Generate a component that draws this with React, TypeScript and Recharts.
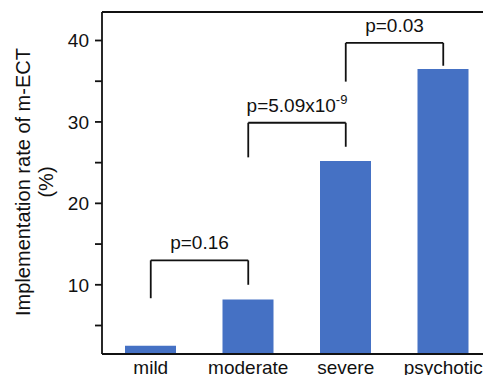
import { Bar, BarChart, ReferenceLine, XAxis, YAxis } from 'recharts'

const categories = ['mild', 'moderate', 'severe', 'psychotic']
const rates = [2.5, 8.2, 25.2, 36.5]
const yTicks = [5, 10, 15, 20, 25, 30, 35, 40]
const yMin = 1.5
const yMax = 43.5

// significance brackets between neighbouring groups
const bracketFrom = ['mild', 'moderate', 'severe']
const bracketTo = ['moderate', 'severe', 'psychotic']
const bracketTop = [13, 29.9, 39.7]
const bracketLeftFoot = [8.35, 25.65, 34.95]
const bracketRightFoot = [10, 26.95, 36.9]
const pText = ['p=0.16', 'p=5.09x10', 'p=0.03']
const pExponent = ['', '-9', '']

const FONT = '"Liberation Sans", Arial, sans-serif'
const INK = '#111'
const BAR_BLUE = '#4571C4'
const LINE_W = 1.8

const data = categories.map((name, i) => ({ name, rate: rates[i] }))

function PLabel({ viewBox, text, exp }: any) {
  if (!viewBox) return null
  const cx = viewBox.x + viewBox.width / 2
  const y = viewBox.y - 11
  return (
    <text x={cx} y={y} textAnchor="middle" fontSize={19} fill={INK} fontFamily={FONT}>
      {text}
      {exp ? (
        <tspan dy={-8} fontSize={13}>
          {exp}
        </tspan>
      ) : null}
    </text>
  )
}

function YTitle() {
  return (
    <g fontFamily={FONT} fontSize={20} fill={INK}>
      <text transform="rotate(-90)" x={-182} y={29.5} textAnchor="middle">
        Implementation rate of m-ECT
      </text>
      <text transform="rotate(-90)" x={-182} y={53} textAnchor="middle">
        (%)
      </text>
    </g>
  )
}

export default function App() {
  return (
    <div
      style={{
        position: 'fixed',
        left: 0,
        top: 0,
        width: 483,
        height: 375,
        overflow: 'hidden',
        background: '#fff',
      }}
    >
      <BarChart
        width={492}
        height={375}
        data={data}
        margin={{ top: 12, right: 0, left: 0, bottom: 0 }}
      >
        <XAxis
          dataKey="name"
          height={21}
          tickLine={false}
          tickSize={0}
          tickMargin={7}
          axisLine={{ stroke: INK, strokeWidth: LINE_W }}
          tick={{ fontSize: 19, fill: INK, fontFamily: FONT }}
          interval={0}
        />
        <YAxis
          type="number"
          domain={[yMin, yMax]}
          allowDataOverflow
          ticks={yTicks}
          width={102}
          tickSize={7}
          tickMargin={6}
          tickLine={{ stroke: INK, strokeWidth: LINE_W }}
          axisLine={{ stroke: INK, strokeWidth: LINE_W }}
          tick={{ fontSize: 19, fill: INK, fontFamily: FONT }}
          tickFormatter={(v: number) => (v % 10 === 0 ? String(v) : '')}
          label={{ content: () => <YTitle /> }}
        />
        <ReferenceLine y={yMax} stroke={INK} strokeWidth={LINE_W} />
        <Bar dataKey="rate" fill={BAR_BLUE} barSize={51} isAnimationActive={false} />
        {bracketFrom.map((from, i) => (
          <ReferenceLine
            key={`l${i}`}
            segment={[
              { x: from, y: bracketLeftFoot[i] },
              { x: from, y: bracketTop[i] },
            ]}
            stroke={INK}
            strokeWidth={LINE_W}
          />
        ))}
        {bracketTo.map((to, i) => (
          <ReferenceLine
            key={`r${i}`}
            segment={[
              { x: to, y: bracketRightFoot[i] },
              { x: to, y: bracketTop[i] },
            ]}
            stroke={INK}
            strokeWidth={LINE_W}
          />
        ))}
        {bracketFrom.map((from, i) => (
          <ReferenceLine
            key={`t${i}`}
            segment={[
              { x: from, y: bracketTop[i] },
              { x: bracketTo[i], y: bracketTop[i] },
            ]}
            stroke={INK}
            strokeWidth={LINE_W}
            label={<PLabel text={pText[i]} exp={pExponent[i]} />}
          />
        ))}
      </BarChart>
    </div>
  )
}
